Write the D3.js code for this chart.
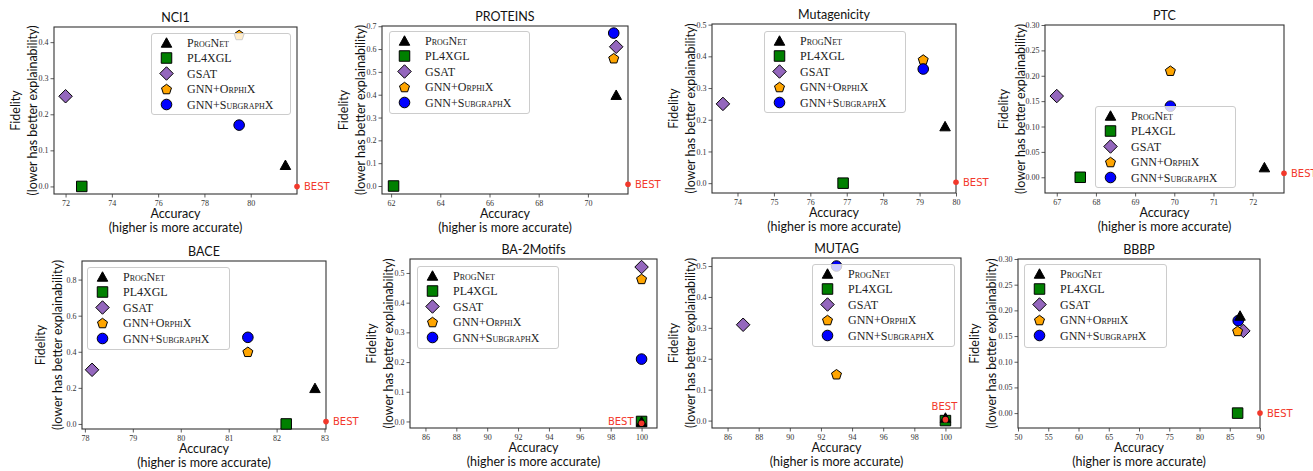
<!DOCTYPE html>
<html><head><meta charset="utf-8">
<script src="https://cdn.jsdelivr.net/npm/d3@7"></script>
<style>
html,body{margin:0;padding:0;background:#fff;}
svg{display:block;}
</style></head>
<body>
<svg id="chart" width="1313" height="471"></svg>
<script>
// ---------------- DATA ----------------
const datasets = ["NCI1","PROTEINS","Mutagenicity","PTC","BACE","BA-2Motifs","MUTAG","BBBP"];
const methods = ["ProgNet","PL4XGL","GSAT","GNN+OrphiX","GNN+SubgraphX"];

const progNetAcc   = [81.5, 71.15, 79.7, 72.3, 82.8, 100, 100, 86.7];
const progNetFid   = [0.06, 0.40, 0.18, 0.02, 0.20, 0.00, 0.01, 0.19];
const pl4xglAcc    = [72.7, 62.1, 76.9, 67.6, 82.2, 100, 100, 86.3];
const pl4xglFid    = [0.00, 0.00, 0.00, 0.00, 0.00, 0.00, 0.00, 0.00];
const gsatAcc      = [72.0, 71.15, 73.6, 67.0, 78.15, 100, 87.0, 87.25];
const gsatFid      = [0.25, 0.61, 0.25, 0.16, 0.30, 0.52, 0.31, 0.16];
const orphixAcc    = [79.5, 71.05, 79.1, 69.9, 81.4, 100, 93.0, 86.3];
const orphixFid    = [0.42, 0.56, 0.39, 0.21, 0.40, 0.48, 0.15, 0.16];
const subgraphxAcc = [79.5, 71.05, 79.1, 69.9, 81.4, 100, 93.0, 86.4];
const subgraphxFid = [0.17, 0.67, 0.36, 0.14, 0.48, 0.21, 0.50, 0.18];
const bestAcc      = [82.0, 71.63, 80.0, 72.8, 83.03, 100, 100, 90];
const bestFid      = [0.0, 0.008, 0.003, 0.008, 0.013, -0.006, 0.003, 0.0];

const xDomains = [[71.5,82.0],[61.63,71.63],[73.3,80.0],[66.7,72.8],[77.94,83.03],[85,101],[85,101],[50,90]];
const yDomains = [[-0.021,0.442],[-0.035,0.701],[-0.031,0.502],[-0.031,0.30],[-0.028,0.903],[-0.022,0.547],[-0.024,0.526],[-0.029,0.30]];
const xTickVals = [[72,74,76,78,80],[62,64,66,68,70],[74,75,76,77,78,79,80],[67,68,69,70,71,72],[78,79,80,81,82,83],[86,88,90,92,94,96,98,100],[86,88,90,92,94,96,98,100],[50,55,60,65,70,75,80,85,90]];
const yTickVals = [[0,0.1,0.2,0.3,0.4],[0,0.1,0.2,0.3,0.4,0.5,0.6,0.7],[0,0.1,0.2,0.3,0.4,0.5],[0,0.05,0.10,0.15,0.20,0.25,0.30],[0,0.2,0.4,0.6,0.8],[0,0.1,0.2,0.3,0.4,0.5],[0,0.1,0.2,0.3,0.4,0.5],[0,0.05,0.10,0.15,0.20,0.25,0.30]];
const yTickDecimals = [1,1,1,2,1,1,1,2];
const bestLabelSide = ["right","right","right","right","right","left","above","right"];

// ---------------- LAYOUT / STYLE ----------------
const layout = [
  {l:54,  t:27,  r:297,  b:194, lg:[151,33,139,81],  ylab:22},
  {l:382, t:26,  r:628,  b:194, lg:[389,31,140,82],  ylab:22},
  {l:712, t:24,  r:956,  b:193, lg:[764,31,141,81],  ylab:22},
  {l:1045,t:25,  r:1284, b:193, lg:[1095,106,140,81],ylab:25},
  {l:82,  t:261, r:326,  b:429, lg:[87,267,142,82],  ylab:25},
  {l:410, t:259, r:657,  b:428, lg:[417,266,141,82], ylab:22},
  {l:712, t:258, r:961,  b:428, lg:[812,264,142,82], ylab:22},
  {l:1018,t:259, r:1260, b:428, lg:[1024,264,142,83],ylab:27}
];

const sansFont = "Lato, 'DejaVu Sans', sans-serif";
const serifFont = "'Liberation Serif', 'DejaVu Serif', serif";

// custom marker shapes (size = nominal width in px)
const symTriangle = {draw(ctx, s){ const w=s, h=s*0.9; ctx.moveTo(0,-h/2); ctx.lineTo(w/2,h/2); ctx.lineTo(-w/2,h/2); ctx.closePath(); }};
const symSquare = {draw(ctx, s){ const h=s/2; ctx.moveTo(-h,-h); ctx.lineTo(h,-h); ctx.lineTo(h,h); ctx.lineTo(-h,h); ctx.closePath(); }};
const symDiamond = {draw(ctx, s){ const h=s/2; ctx.moveTo(0,-h); ctx.lineTo(h,0); ctx.lineTo(0,h); ctx.lineTo(-h,0); ctx.closePath(); }};
const symPentagon = {draw(ctx, s){ const r=s/2; for(let i=0;i<5;i++){ const a=-Math.PI/2+i*2*Math.PI/5; const x=r*Math.cos(a), y=r*Math.sin(a)+r*0.1; if(i===0) ctx.moveTo(x,y); else ctx.lineTo(x,y);} ctx.closePath(); }};
const symCircle = {draw(ctx, s){ const r=s/2; ctx.moveTo(r,0); ctx.arc(0,0,r,0,2*Math.PI); }};

const methodStyle = {
  "ProgNet":       {type:symTriangle, size:10.5, fill:"#000000", stroke:"#000000"},
  "PL4XGL":        {type:symSquare,   size:10.5, fill:"#008000", stroke:"#000000"},
  "GSAT":          {type:symDiamond,  size:13.5, fill:"#9467bd", stroke:"#000000"},
  "GNN+OrphiX":    {type:symPentagon, size:10.5, fill:"#FFA500", stroke:"#000000"},
  "GNN+SubgraphX": {type:symCircle,   size:10.6, fill:"#0000FF", stroke:"#000000"}
};
const methodAcc = {"ProgNet":progNetAcc,"PL4XGL":pl4xglAcc,"GSAT":gsatAcc,"GNN+OrphiX":orphixAcc,"GNN+SubgraphX":subgraphxAcc};
const methodFid = {"ProgNet":progNetFid,"PL4XGL":pl4xglFid,"GSAT":gsatFid,"GNN+OrphiX":orphixFid,"GNN+SubgraphX":subgraphxFid};
const drawOrder = ["PL4XGL","GSAT","GNN+OrphiX","GNN+SubgraphX","ProgNet"];
const bestColor = "#f2382b";

const svg = d3.select("#chart");

datasets.forEach((name, i) => {
  const L = layout[i];
  const x = d3.scaleLinear().domain(xDomains[i]).range([L.l, L.r]);
  const y = d3.scaleLinear().domain(yDomains[i]).range([L.b, L.t]);
  const g = svg.append("g");

  const fmt = d3.format("." + yTickDecimals[i] + "f");
  const xa = g.append("g").attr("transform", `translate(0,${L.b})`)
    .call(d3.axisBottom(x).tickValues(xTickVals[i]).tickSize(3.5).tickPadding(2.5).tickFormat(d3.format("d")));
  const ya = g.append("g").attr("transform", `translate(${L.l},0)`)
    .call(d3.axisLeft(y).tickValues(yTickVals[i]).tickSize(3.5).tickPadding(2).tickFormat(fmt));
  [xa, ya].forEach(a => {
    a.select(".domain").remove();
    a.selectAll(".tick line").attr("stroke", "#333").attr("stroke-width", 0.8);
    a.selectAll(".tick text").attr("font-family", serifFont).attr("font-size", 8).attr("fill", "#333");
  });

  g.append("rect").attr("x", L.l).attr("y", L.t).attr("width", L.r - L.l).attr("height", L.b - L.t)
    .attr("fill", "none").attr("stroke", "#333").attr("stroke-width", 1.1);

  g.append("text").attr("x", (L.l + L.r) / 2).attr("y", L.t - 5).attr("text-anchor", "middle")
    .attr("font-family", sansFont).attr("font-size", 12.5).attr("fill", "#111").text(name);

  const cx = (L.l + L.r) / 2;
  g.append("text").attr("x", cx).attr("y", L.b + 24).attr("text-anchor", "middle")
    .attr("font-family", sansFont).attr("font-size", 12.5).attr("fill", "#111").text("Accuracy");
  g.append("text").attr("x", cx).attr("y", L.b + 38).attr("text-anchor", "middle")
    .attr("font-family", sansFont).attr("font-size", 12.5).attr("fill", "#111").text("(higher is more accurate)");

  const cy = (L.t + L.b) / 2;
  const x2 = L.l - L.ylab + 4.5, x1 = x2 - 17;
  g.append("text").attr("transform", `translate(${x1},${cy}) rotate(-90)`).attr("text-anchor", "middle")
    .attr("font-family", sansFont).attr("font-size", 12.5).attr("fill", "#111").text("Fidelity");
  g.append("text").attr("transform", `translate(${x2},${cy}) rotate(-90)`).attr("text-anchor", "middle")
    .attr("font-family", sansFont).attr("font-size", 12.5).attr("fill", "#111").text("(lower has better explainability)");

  drawOrder.forEach(m => {
    const st = methodStyle[m];
    g.append("path")
      .attr("d", d3.symbol().type(st.type).size(st.size)())
      .attr("transform", `translate(${x(methodAcc[m][i])},${y(methodFid[m][i])})`)
      .attr("fill", st.fill).attr("stroke", st.stroke).attr("stroke-width", 1);
  });

  const bx = x(bestAcc[i]), by = y(bestFid[i]);
  g.append("circle").attr("cx", bx).attr("cy", by).attr("r", 2.8).attr("fill", bestColor);
  const side = bestLabelSide[i];
  const bt = g.append("text").attr("font-family", "'DejaVu Sans', sans-serif").attr("font-size", 10)
    .attr("fill", bestColor).text("BEST");
  if (side === "right") bt.attr("x", bx + 7).attr("y", by + 3.6).attr("text-anchor", "start");
  else if (side === "left") bt.attr("x", bx - 8).attr("y", by + 1.5).attr("text-anchor", "end");
  else bt.attr("x", bx - 1).attr("y", by - 10).attr("text-anchor", "middle");

  const [lx, ly, lw, lh] = L.lg;
  const lg = g.append("g");
  lg.append("rect").attr("x", lx + 0.5).attr("y", ly + 0.5).attr("width", lw).attr("height", lh)
    .attr("rx", 2.5).attr("fill", "#fff").attr("fill-opacity", 0.8).attr("stroke", "#cccccc").attr("stroke-width", 1);
  methods.forEach((m, k) => {
    const st = methodStyle[m];
    const ry = ly + 9.5 + k * 15.5;
    lg.append("path").attr("d", d3.symbol().type(st.type).size(st.size)())
      .attr("transform", `translate(${lx + 15.5},${ry})`)
      .attr("fill", st.fill).attr("stroke", st.stroke).attr("stroke-width", 1);
    lg.append("text").attr("x", lx + 36).attr("y", ry + 4)
      .attr("font-family", serifFont).attr("font-size", 12).attr("fill", "#222")
      .style("font-variant", "small-caps").text(m);
  });
});
</script>
</body></html>
